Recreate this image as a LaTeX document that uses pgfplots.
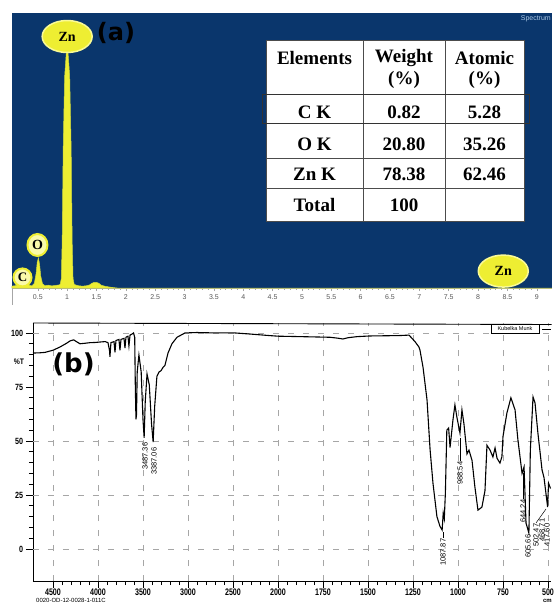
\documentclass[border=0pt]{standalone}
\usepackage{fontspec}
\setmainfont{Liberation Serif}
\newfontfamily\lsans{Liberation Sans}
\newfontfamily\dsans{DejaVu Sans}
\usepackage{pgfplots}
\usepackage{pgfplotstable}
\pgfplotsset{compat=1.18}
\usetikzlibrary{shapes.geometric}
\definecolor{edsblue}{RGB}{10,54,108}
\definecolor{edsyel}{RGB}{238,238,50}
\definecolor{edsedge}{RGB}{205,215,60}
\definecolor{edsring}{RGB}{250,250,150}
\definecolor{edspale}{RGB}{250,250,170}
\definecolor{specblue}{RGB}{170,200,230}

\pgfplotstableread{
kev counts
0.06 0.8
0.12 1.0
0.18 1.5
0.22 2.2
0.25 2.8
0.28 3.0
0.31 2.2
0.35 1.2
0.40 0.9
0.44 2.0
0.47 6
0.49 11
0.51 12.8
0.53 10
0.55 5
0.58 1.8
0.62 1.0
0.68 1.2
0.74 0.9
0.80 1.1
0.86 1.3
0.88 1.5
0.90 4
0.915 20
0.932 59
0.957 90
0.985 100
1.015 100
1.043 90
1.068 59
1.085 20
1.10 4
1.12 1.5
1.18 1.0
1.25 0.8
1.32 0.9
1.38 1.3
1.42 2.0
1.46 2.4
1.50 2.4
1.54 2.0
1.58 1.2
1.65 0.7
1.75 0.3
1.85 0
9.26 0
}\edsdata

\pgfplotstableread{
wn T
4722 90.7
4650 90.8
4589 91
4500 92
4422 93.5
4350 95.2
4311 96.3
4270 96.8
4240 96.0
4200 95
4150 95.2
4089 95.5
4030 95.6
3978 95.8
3920 96
3889 95.5
3872 92
3867 89
3856 95.5
3822 96
3811 91
3800 96.5
3767 97
3756 92
3744 97
3711 97.5
3700 93
3689 98
3667 98.5
3656 94
3644 99
3622 99.5
3605 100
3592 98
3585 75
3578 60
3572 62
3564 82
3545 89.8
3520 82
3500 60
3487 51.5
3475 68
3455 81
3430 76
3405 58
3387 49.5
3370 66
3345 80
3320 82
3300 82.5
3278 84
3256 85
3222 90.7
3178 95
3122 98
3033 100
2900 100.2
2700 100
2478 100
2311 99.5
2100 98.8
2000 98.5
1878 98.3
1711 98
1670 97.6
1639 97.2
1610 97.8
1560 98.3
1489 98.6
1400 98.7
1322 98.8
1272 99
1239 96
1217 93.5
1211 92
1194 84
1172 69
1155 46
1139 30.5
1117 15
1100 10.5
1088 8.8
1082 16.7
1076 14
1070 26
1062 55
1052 56
1044 47
1028 59.7
1017 66.7
1006 61
989 53.7
978 64.4
967 58
950 44
939 45.8
922 41
906 28.7
889 18
867 19.4
850 27
839 48
822 45.8
806 42.6
794 46.8
783 42
767 39.8
756 42.6
750 52
728 63
706 70
683 64.4
667 50.5
644 35
633 38
622 12
606 7.4
598 45.8
583 70.4
572 67.6
556 53.7
533 36.6
522 33
502 19.4
497 30.5
486 28
}\ftirdata

\begin{document}
\begin{tikzpicture}
\fill[white] (0pt,-603pt) rectangle (552pt,0pt);

% ---------------- (a) EDS ----------------
\begin{axis}[
  at={(12pt,-288pt)}, anchor=south west, scale only axis,
  width=540pt, height=275pt,
  xmin=0.06, xmax=9.26, ymin=0, ymax=117,
  axis background/.style={fill=edsblue},
  axis x line*=bottom, axis y line=none,
  x axis line style={draw=gray!70, line width=0.5pt},
  xtick={0.5,1,...,9}, minor x tick num=4,
  tick align=outside, major tick length=3pt, minor tick length=1.5pt,
  tick style={gray!70, line width=0.4pt},
  /pgf/number format/assume math mode=true,
  xticklabel style={font=\lsans\fontsize{7}{8}\selectfont, text=gray!70!black},
  clip=false,
]
\addplot[fill=edsyel, draw=edsedge, line width=0.5pt] table[x=kev,y=counts] {\edsdata} \closedcycle;
\node[ellipse, fill=edsyel, draw=edsring, line width=1.5pt, minimum width=50pt, minimum height=32pt, inner sep=0pt, font=\bfseries\fontsize{14}{14}\selectfont] at (axis cs:1.0,107) {Zn};
\node[ellipse, fill=edsyel, draw=edsring, line width=1.5pt, minimum width=50pt, minimum height=32pt, inner sep=0pt, font=\bfseries\fontsize{14}{14}\selectfont] at (axis cs:8.43,7.2) {Zn};
\node[ellipse, fill=edspale, draw=edsyel, line width=2pt, minimum width=20pt, minimum height=22pt, inner sep=0pt, font=\bfseries\fontsize{14}{14}\selectfont] at (axis cs:0.494,18.3) {O};
\node[ellipse, fill=edspale, draw=edsyel, line width=2pt, minimum width=18pt, minimum height=18pt, inner sep=0pt, font=\bfseries\fontsize{13}{13}\selectfont] at (axis cs:0.239,4.5) {C};
\end{axis}

% ---------------- (b) FTIR ----------------
\begin{axis}[
  at={(33pt,-581pt)}, anchor=south west, scale only axis,
  width=518pt, height=258pt,
  xmin=-0.444, xmax=11.067, ymin=-14.8, ymax=104.6,
  x filter/.expression={(4500-max(x,2000))/500+(2000-min(x,2000))/250},
  axis x line*=bottom, axis y line*=left,
  axis line style={black, line width=0.9pt},
  xtick={0,...,11},
  xticklabels={4500,4000,3500,3000,2500,2000,1750,1500,1250,1000,750,500},
  minor x tick num=4,
  ytick={0,25,50,75,100}, minor y tick num=4,
  tick align=outside, major tick length=7pt, minor tick length=4pt,
  tick style={black, line width=0.7pt},
  xmajorgrids,
  major grid style={gray!70, line width=0.6pt, dash pattern=on 6pt off 9pt},
  extra y ticks={0,25,50,100}, extra y tick labels={},
  extra y tick style={grid=major, major tick length=0pt},
  /pgf/number format/assume math mode=true,
  xticklabel style={font=\lsans\bfseries\fontsize{9.5}{10}\selectfont, xscale=0.75, yshift=3pt},
  yticklabel style={font=\lsans\bfseries\fontsize{9}{10}\selectfont, xscale=0.8},
]
\addplot[black, line width=1.1pt, no marks] table[x=wn,y=T] {\ftirdata};
\end{axis}

\begin{scope}[x=1pt,y=1pt]
\draw[gray!70, line width=0.5pt] (12,-288) -- (12,-305);
\node[font=\dsans\bfseries\fontsize{24}{24}\selectfont, text=black] at (116,-33) {(a)};
\node[anchor=east, font=\lsans\fontsize{7}{8}\selectfont, text=specblue, inner sep=1pt] at (552,-19) {Spectrum};

% table
\fill[white] (266,-40) rectangle (524,-221);
\draw[gray!60!black, line width=0.6pt] (266,-40) rectangle (524,-221);
\foreach \yy in {-94,-123,-158,-188} \draw[gray!60!black, line width=0.6pt] (266,\yy) -- (524,\yy);
\foreach \xx in {363,445} \draw[gray!60!black, line width=0.6pt] (\xx,-40) -- (\xx,-221);
\draw[black!80, line width=0.8pt] (262,-94) rectangle (529,-123);
\begin{scope}[every node/.style={font=\bfseries\fontsize{19}{22}\selectfont, inner sep=0pt}]
\node at (314.5,-58) {Elements};
\node at (404,-58) {Weight};
\node at (404,-80) {(\%)};
\node at (484.5,-58) {Atomic};
\node at (484.5,-80) {(\%)};
\node at (314.5,-112) {C K};
\node at (404,-112) {0.82};
\node at (484.5,-112) {5.28};
\node at (314.5,-144) {O K};
\node at (404,-144) {20.80};
\node at (484.5,-144) {35.26};
\node at (314.5,-174) {Zn K};
\node at (404,-174) {78.38};
\node at (484.5,-174) {62.46};
\node at (314.5,-205) {Total};
\node at (404,-205) {100};
\end{scope}

% FTIR annotations
\draw[black, line width=0.9pt] (33,-323) -- (551.5,-324.5);
\node[font=\lsans\bfseries\fontsize{8}{9}\selectfont, xscale=0.85] at (19,-362) {\%T};
\node[font=\dsans\bfseries\fontsize{26}{26}\selectfont, text=black] at (73.5,-364) {(b)};
\draw[black, line width=0.6pt, fill=white] (491,-324.5) rectangle (539,-333);
\node[font=\lsans\fontsize{5.5}{6}\selectfont, inner sep=0pt] at (515,-328.8) {Kubelka Munk};
\draw[black, line width=0.7pt] (542,-329) -- (551,-329);
\begin{scope}[every node/.style={font=\lsans\fontsize{7.5}{8}\selectfont, rotate=90, anchor=east, inner sep=0.5pt}]
\node at (145,-442) {3487.36};
\node at (154,-447) {3387.06};
\node at (443,-538) {1087.87};
\node at (460,-461) {988.54};
\node at (523,-499) {644.24};
\node at (528,-534) {605.66};
\node at (536,-523) {502.47};
\node at (542,-518) {468.71};
\node at (547,-523) {417.60};
\end{scope}
\draw[black, line width=0.5pt] (443,-532) -- (443,-538);
\draw[black, line width=0.5pt] (460,-438) -- (460,-461);
\draw[black, line width=0.5pt] (523,-473) -- (523,-499);
\draw[black, line width=0.5pt] (536,-523) -- (546,-509);
\node[anchor=south east, font=\lsans\bfseries\fontsize{6}{7}\selectfont, inner sep=0pt] at (552,-603) {cm};
\node[anchor=west, font=\lsans\fontsize{6}{7}\selectfont, inner sep=0pt] at (36,-600) {0020-OD-12-0028-1-011C};
\end{scope}
\end{tikzpicture}
\end{document}
